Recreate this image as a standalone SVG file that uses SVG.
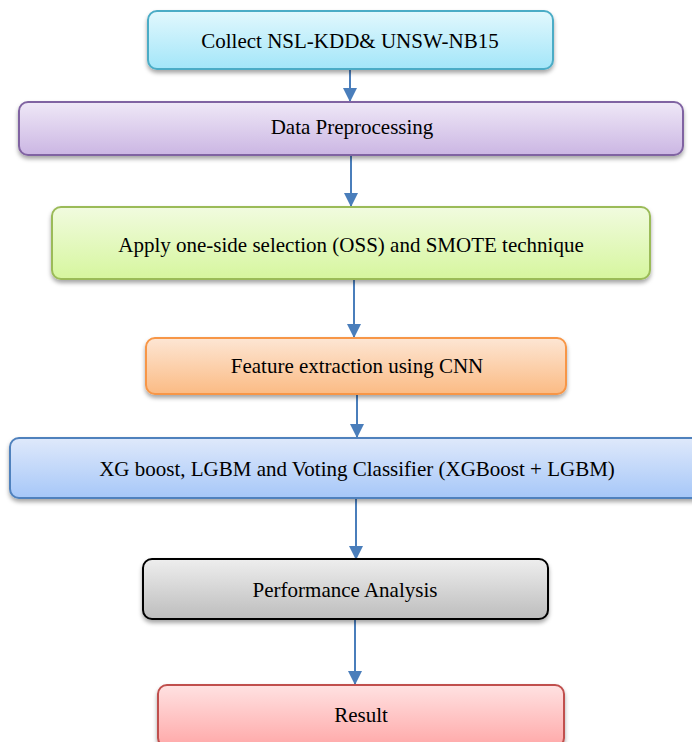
<svg xmlns="http://www.w3.org/2000/svg" width="692" height="742" viewBox="0 0 692 742">
<defs>
<style>
.box{stroke-width:2}
.lbl{font-family:"Liberation Serif","Times New Roman",serif;font-size:21px;fill:#000;text-anchor:middle}
.conn{stroke:#4a7ebb;stroke-width:2;fill:none}
</style>
<filter id="sh" x="-10%" y="-20%" width="120%" height="160%">
<feDropShadow dx="0" dy="3" stdDeviation="2" flood-color="#000" flood-opacity="0.35"/>
</filter>
<marker id="ah" markerWidth="14" markerHeight="14" viewBox="0 0 14 14" refX="13" refY="7" orient="auto" markerUnits="userSpaceOnUse">
<path d="M0,0 L14,7 L0,14 Z" fill="#4a7ebb"/>
</marker>
<linearGradient id="g1" x1="0" y1="0" x2="0" y2="1"><stop offset="0" stop-color="#e2f8fd"/><stop offset="1" stop-color="#a3e6f9"/></linearGradient>
<linearGradient id="g2" x1="0" y1="0" x2="0" y2="1"><stop offset="0" stop-color="#efe8f7"/><stop offset="1" stop-color="#cbb6e3"/></linearGradient>
<linearGradient id="g3" x1="0" y1="0" x2="0" y2="1"><stop offset="0" stop-color="#f1fbdf"/><stop offset="1" stop-color="#d6f69e"/></linearGradient>
<linearGradient id="g4" x1="0" y1="0" x2="0" y2="1"><stop offset="0" stop-color="#fde6d4"/><stop offset="1" stop-color="#fbbb84"/></linearGradient>
<linearGradient id="g5" x1="0" y1="0" x2="0" y2="1"><stop offset="0" stop-color="#dfe9fb"/><stop offset="1" stop-color="#a6c7f8"/></linearGradient>
<linearGradient id="g6" x1="0" y1="0" x2="0" y2="1"><stop offset="0" stop-color="#eeeeee"/><stop offset="1" stop-color="#bdbdbd"/></linearGradient>
<linearGradient id="g7" x1="0" y1="0" x2="0" y2="1"><stop offset="0" stop-color="#ffe2e2"/><stop offset="1" stop-color="#ffa8a8"/></linearGradient>
</defs>
<rect width="692" height="742" fill="#fff"/>
<g id="connectors">
<line class="conn" x1="350" y1="70" x2="350" y2="101" marker-end="url(#ah)"/>
<line class="conn" x1="351" y1="156" x2="351" y2="206" marker-end="url(#ah)"/>
<line class="conn" x1="354" y1="280" x2="354" y2="337" marker-end="url(#ah)"/>
<line class="conn" x1="357" y1="395" x2="357" y2="437" marker-end="url(#ah)"/>
<line class="conn" x1="356" y1="499" x2="356" y2="559" marker-end="url(#ah)"/>
<line class="conn" x1="355" y1="620" x2="355" y2="684" marker-end="url(#ah)"/>
</g>
<g id="n1"><rect class="box" x="148" y="11" width="405" height="58" rx="9" fill="url(#g1)" stroke="#4bacc6" filter="url(#sh)"/><text class="lbl" x="350" y="48">Collect NSL-KDD&amp; UNSW-NB15</text></g>
<g id="n2"><rect class="box" x="19" y="102" width="664" height="53" rx="9" fill="url(#g2)" stroke="#8064a2" filter="url(#sh)"/><text class="lbl" x="352" y="134">Data Preprocessing</text></g>
<g id="n3"><rect class="box" x="52" y="207" width="598" height="72" rx="9" fill="url(#g3)" stroke="#9bbb59" filter="url(#sh)"/><text class="lbl" x="351" y="252">Apply one-side selection (OSS) and SMOTE technique</text></g>
<g id="n4"><rect class="box" x="146" y="338" width="420" height="56" rx="9" fill="url(#g4)" stroke="#f79646" filter="url(#sh)"/><text class="lbl" x="357" y="373">Feature extraction using CNN</text></g>
<g id="n5"><rect class="box" x="10" y="438" width="692" height="60" rx="9" fill="url(#g5)" stroke="#4f81bd" filter="url(#sh)"/><text class="lbl" x="357" y="476">XG boost, LGBM and Voting Classifier (XGBoost + LGBM)</text></g>
<g id="n6"><rect class="box" x="143" y="559" width="405" height="60" rx="9" fill="url(#g6)" stroke="#000" filter="url(#sh)"/><text class="lbl" x="345" y="597">Performance Analysis</text></g>
<g id="n7"><rect class="box" x="158" y="685" width="406" height="62" rx="9" fill="url(#g7)" stroke="#c0504d" filter="url(#sh)"/><text class="lbl" x="361" y="722">Result</text></g>
</svg>
